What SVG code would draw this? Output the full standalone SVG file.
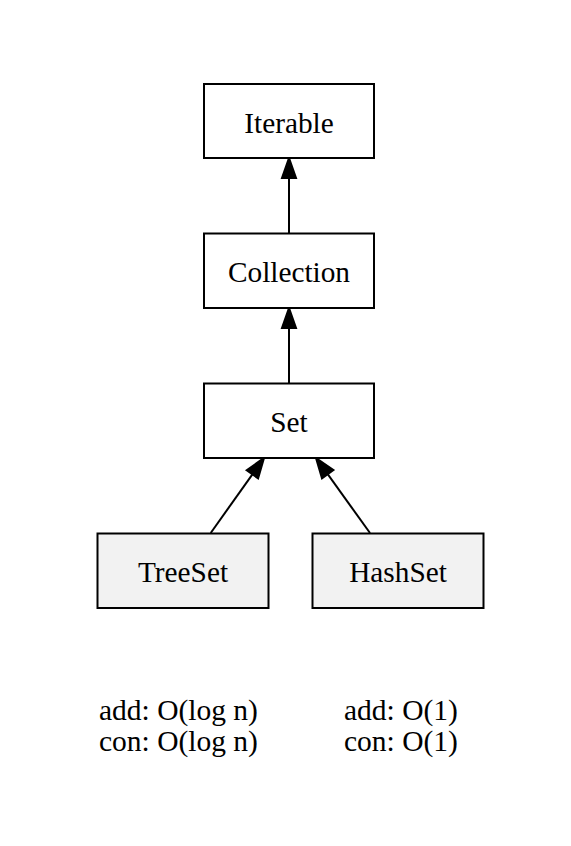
<svg xmlns="http://www.w3.org/2000/svg" width="571" height="846" viewBox="0 0 571 846">
<style>
.box{fill:#ffffff;stroke:#000000;stroke-width:2}
.leaf{fill:#f2f2f2;stroke:#000000;stroke-width:2}
.lbl{font-family:"Liberation Serif","Times New Roman",serif;font-size:29.3px;fill:#000000;text-anchor:middle}
.note{font-family:"Liberation Serif","Times New Roman",serif;font-size:29.5px;fill:#000000}
.edge{stroke:#000000;stroke-width:2;fill:none}
.head{fill:#000000;stroke:#000000;stroke-width:2}
</style>
<rect width="571" height="846" fill="#ffffff"/>
<g id="connectors">
<line class="edge" x1="289" y1="233" x2="289" y2="178"/>
<polygon class="head" points="289,158 282,178 296,178"/>
<line class="edge" x1="289" y1="383" x2="289" y2="328"/>
<polygon class="head" points="289,308 282,328 296,328"/>
<line class="edge" x1="210.7" y1="533" x2="252.4" y2="474.3"/>
<polygon class="head" points="264,458 258.1,478.4 246.7,470.2"/>
<line class="edge" x1="370" y1="533" x2="327.7" y2="474.2"/>
<polygon class="head" points="316,458 333.4,470.1 322,478.3"/>
</g>
<g id="Iterable">
<rect class="box" x="204" y="84" width="170" height="74"/>
<text class="lbl" x="289" y="132.5">Iterable</text>
</g>
<g id="Collection">
<rect class="box" x="204" y="233.5" width="170" height="74.5"/>
<text class="lbl" x="289" y="282">Collection</text>
</g>
<g id="Set">
<rect class="box" x="204" y="383.5" width="170" height="74.5"/>
<text class="lbl" x="289" y="432">Set</text>
</g>
<g id="TreeSet">
<rect class="leaf" x="97.5" y="533.5" width="171" height="74.5"/>
<text class="lbl" x="183" y="582">TreeSet</text>
</g>
<g id="HashSet">
<rect class="leaf" x="312.5" y="533.5" width="171" height="74.5"/>
<text class="lbl" x="398" y="582">HashSet</text>
</g>
<g id="notes">
<text class="note" x="99" y="720">add: O(log n)</text>
<text class="note" x="99" y="751">con: O(log n)</text>
<text class="note" x="344" y="720">add: O(1)</text>
<text class="note" x="344" y="751">con: O(1)</text>
</g>
</svg>
